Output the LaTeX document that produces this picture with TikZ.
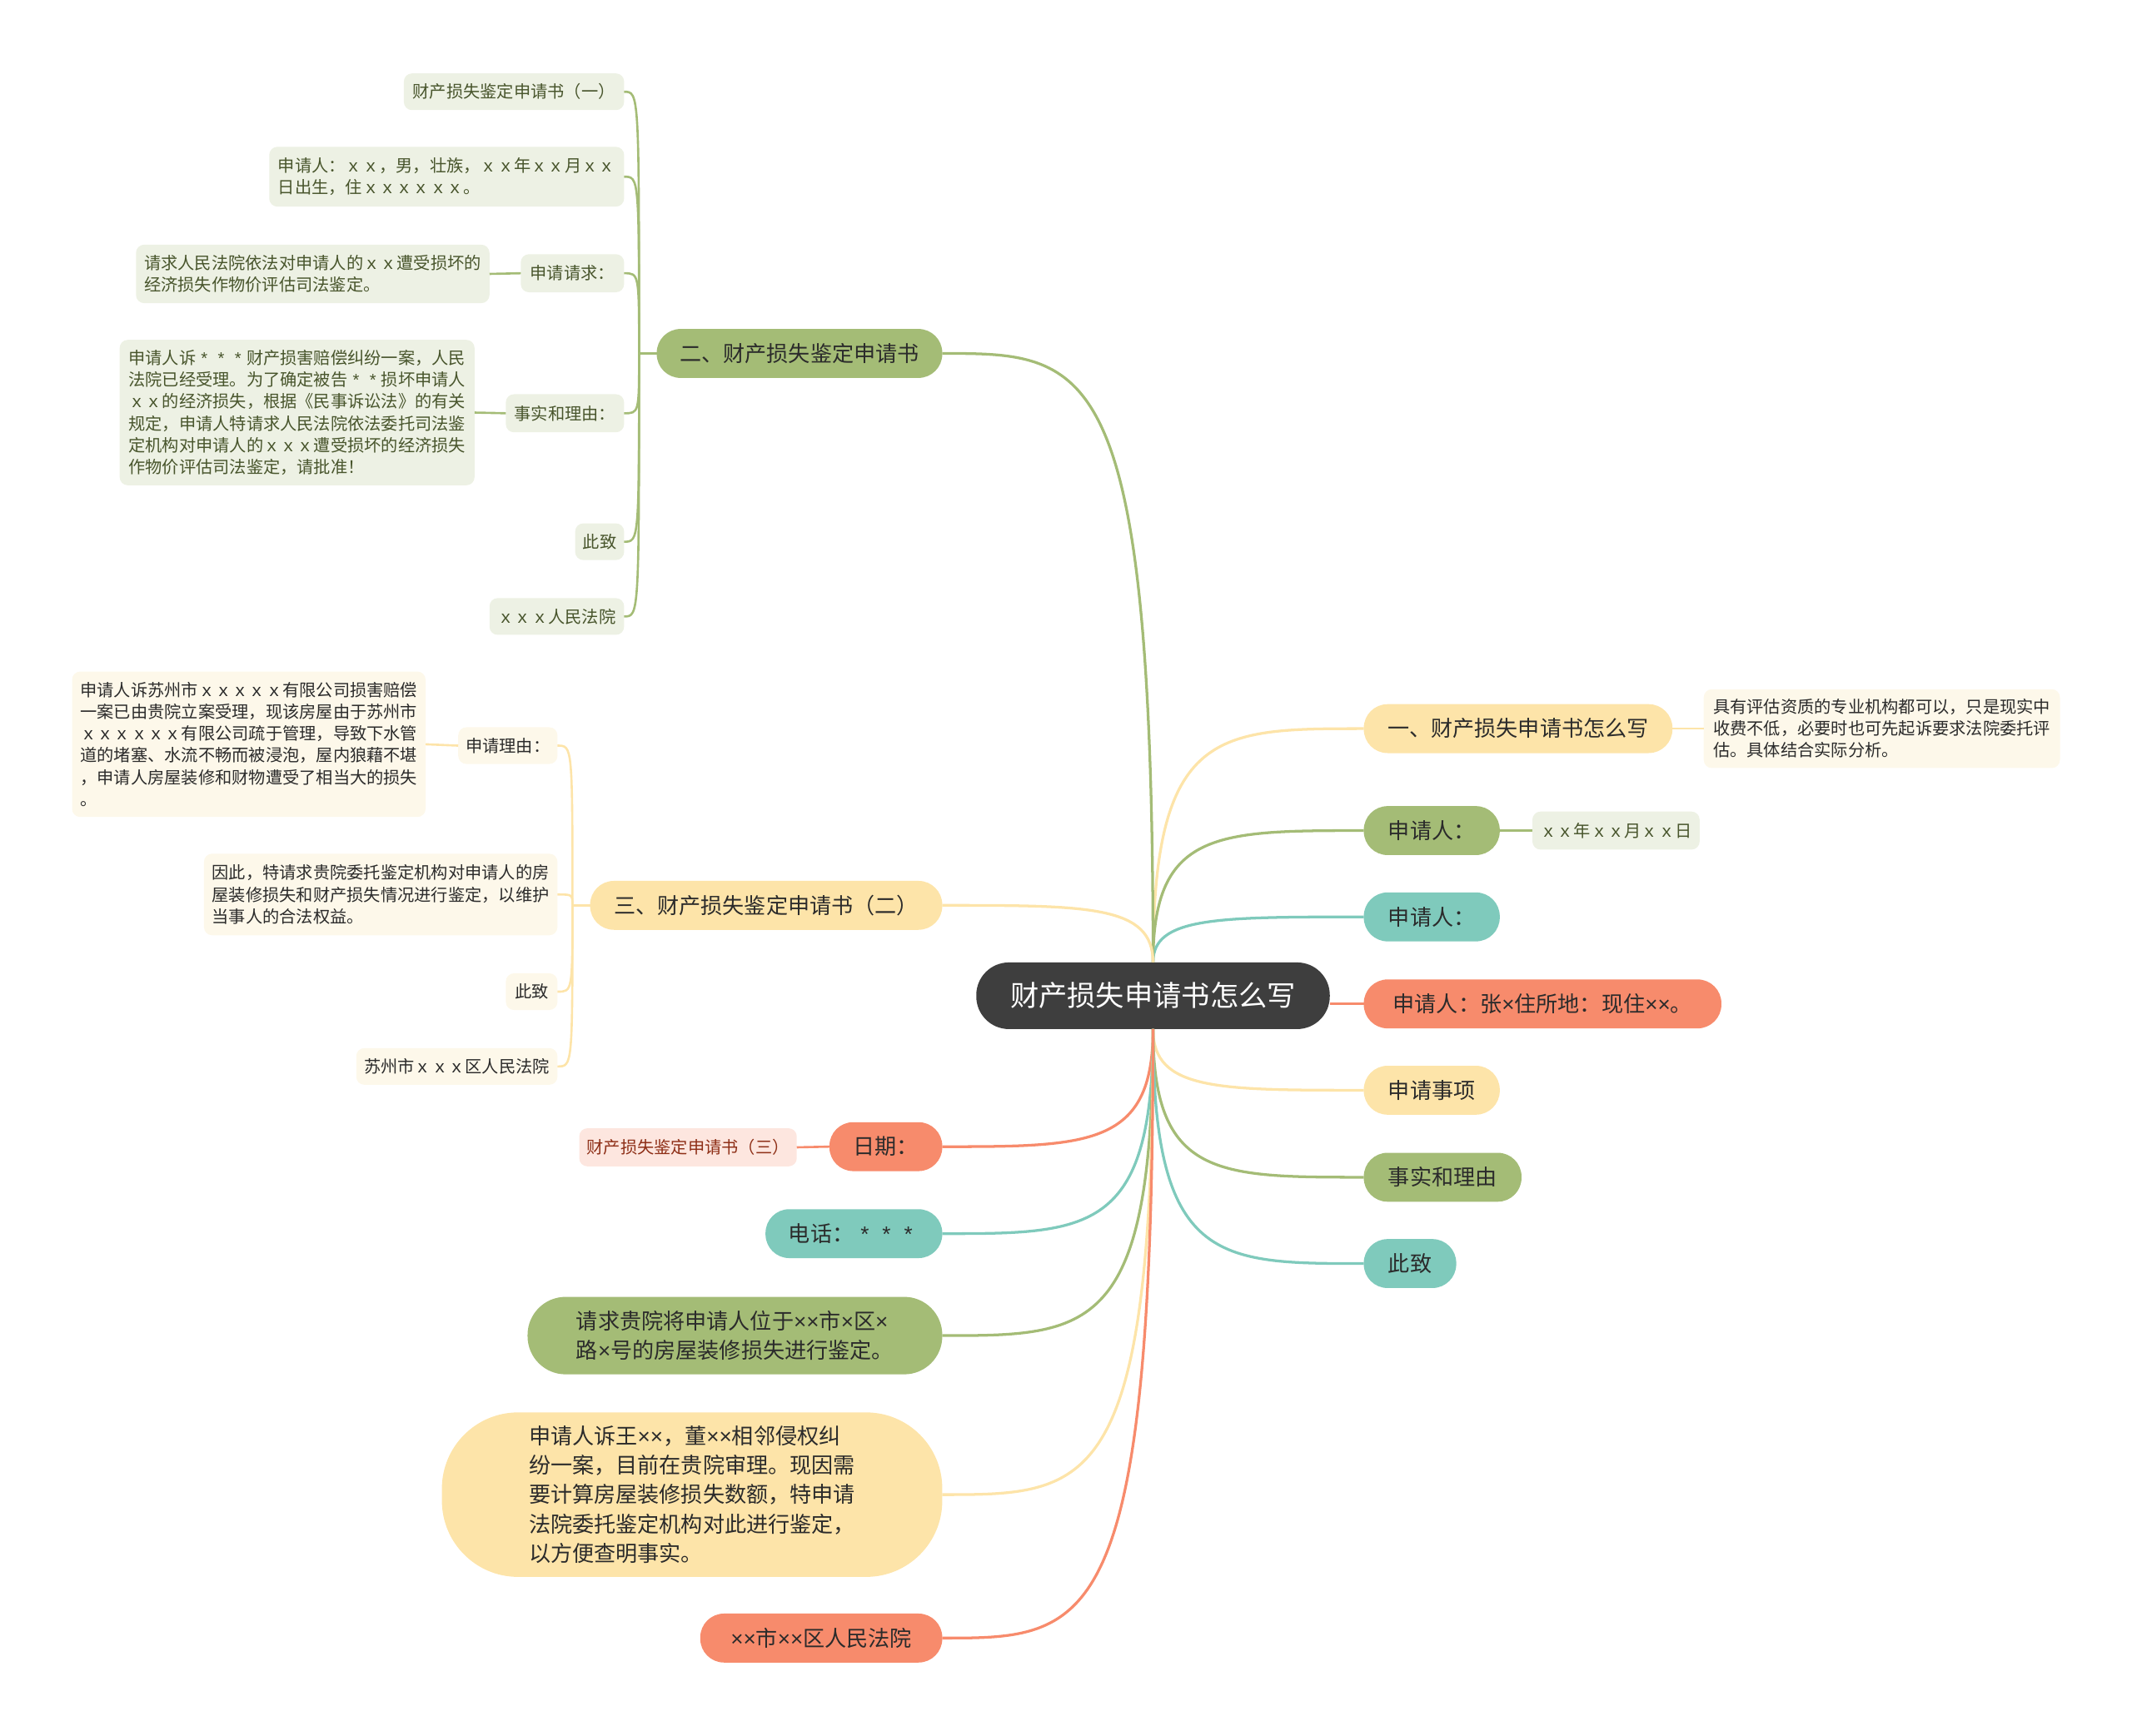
\documentclass[tikz,border=0pt]{standalone}
\usepackage{fontspec}
\setmainfont{Noto Sans CJK SC}
\newfontfamily\latinfont{Liberation Sans}
\newcommand{\X}{{\latinfont ×}}
\newcommand{\st}{\makebox[1em]{\latinfont *}}
\definecolor{cgreen}{HTML}{A4BC76}
\definecolor{cyellow}{HTML}{FDE4A9}
\definecolor{cteal}{HTML}{7FCABC}
\definecolor{csalmon}{HTML}{F78B6C}
\definecolor{cdark}{HTML}{3E3E3E}
\definecolor{lgreen}{HTML}{EDF1E4}
\definecolor{lyellow}{HTML}{FDF8EA}
\definecolor{lpink}{HTML}{FDE6DF}
\definecolor{tgreen}{HTML}{48552C}
\definecolor{tpink}{HTML}{8E2F17}
\definecolor{tmain}{HTML}{2B2B2B}
\begin{document}
\begin{tikzpicture}[x=1pt,y=-1pt,
  every node/.style={inner sep=0pt, outer sep=0pt},
  ctrbox/.style={rounded corners=24pt, fill=cdark, text=white, minimum height=49pt,
    font=\fontsize{21}{26}\selectfont},
  mainbox/.style={rounded corners=17.5pt, minimum height=36pt, text=tmain, align=left,
    font=\fontsize{16}{21.5}\selectfont},
  subbox/.style={rounded corners=6pt, minimum height=27pt, align=left,
    font=\fontsize{12.4}{16}\selectfont},
  gsub/.style={subbox, fill=lgreen, text=tgreen},
  ysub/.style={subbox, fill=lyellow, text=tmain},
  psub/.style={subbox, fill=lpink, text=tpink},
  conn/.style={line width=2pt},
  bconn/.style={line width=1.6pt},
]
\useasboundingbox (0,0) rectangle (1568,1277);

% centre
\node[ctrbox, minimum width=260pt] (ctr) at (848,732.5) {财产损失申请书怎么写};

% right side
\node[mainbox, fill=cyellow, minimum width=227pt] (r1) at (1116.5,536) {一、财产损失申请书怎么写};
\node[ysub, minimum width=262pt, minimum height=58pt] (r1n) at (1384,536) {具有评估资质的专业机构都可以，只是现实中\\收费不低，必要时也可先起诉要求法院委托评\\估。具体结合实际分析。};
\node[mainbox, fill=cgreen, minimum width=100pt] (r2) at (1053,611) {申请人：};
\node[gsub, minimum width=123pt, minimum height=28pt] (r2c) at (1188.5,611) {ｘｘ年ｘｘ月ｘｘ日};
\node[mainbox, fill=cteal, minimum width=100pt] (r3) at (1053,674.5) {申请人：};
\node[mainbox, fill=csalmon, minimum width=263pt] (r4) at (1134.5,738.5) {申请人：张\X 住所地：现住\X\X 。};
\node[mainbox, fill=cyellow, minimum width=100pt] (r5) at (1053,802) {申请事项};
\node[mainbox, fill=cgreen, minimum width=116pt] (r6) at (1061,866) {事实和理由};
\node[mainbox, fill=cteal, minimum width=68pt] (r7) at (1037,929.5) {此致};

% left side A
\node[mainbox, fill=cgreen, minimum width=210pt] (la) at (588,260) {二、财产损失鉴定申请书};
\node[gsub, minimum width=162pt] (a1) at (378,67.5) {财产损失鉴定申请书（一）};
\node[gsub, minimum width=261pt, minimum height=44pt] (a2) at (328.5,130) {申请人：ｘｘ，男，壮族，ｘｘ年ｘｘ月ｘｘ\\日出生，住ｘｘｘｘｘｘ。};
\node[gsub, minimum width=76pt, minimum height=28pt] (a3) at (421,201) {申请请求：};
\node[gsub, minimum width=260pt, minimum height=43pt] (a3c) at (230,201.5) {请求人民法院依法对申请人的ｘｘ遭受损坏的\\经济损失作物价评估司法鉴定。};
\node[gsub, minimum width=87pt, minimum height=28pt] (a4) at (415.5,304) {事实和理由：};
\node[gsub, minimum width=261pt, minimum height=107pt] (a4c) at (218.5,303.5) {申请人诉\st\st\st 财产损害赔偿纠纷一案，人民\\法院已经受理。为了确定被告\st\st 损坏申请人\\ｘｘ的经济损失，根据《民事诉讼法》的有关\\规定，申请人特请求人民法院依法委托司法鉴\\定机构对申请人的ｘｘｘ遭受损坏的经济损失\\作物价评估司法鉴定，请批准！};
\node[gsub, minimum width=36pt] (a5) at (441,398.5) {此致};
\node[gsub, minimum width=99pt] (a6) at (409.5,453.5) {ｘｘｘ人民法院};

% left side B
\node[mainbox, fill=cyellow, minimum width=259pt] (lb) at (563.5,666) {三、财产损失鉴定申请书（二）};
\node[ysub, minimum width=73pt] (b1) at (373.5,548.5) {申请理由：};
\node[ysub, minimum width=260pt, minimum height=107pt] (b1c) at (183,547.5) {申请人诉苏州市ｘｘｘｘｘ有限公司损害赔偿\\一案已由贵院立案受理，现该房屋由于苏州市\\ｘｘｘｘｘｘ有限公司疏于管理，导致下水管\\道的堵塞、水流不畅而被浸泡，屋内狼藉不堪\\，申请人房屋装修和财物遭受了相当大的损失\\。};
\node[ysub, minimum width=260pt, minimum height=60pt] (b2) at (280,658) {因此，特请求贵院委托鉴定机构对申请人的房\\屋装修损失和财产损失情况进行鉴定，以维护\\当事人的合法权益。};
\node[ysub, minimum width=38pt] (b3) at (391,729.5) {此致};
\node[ysub, minimum width=148pt] (b4) at (336,784.5) {苏州市ｘｘｘ区人民法院};

% left side lower
\node[mainbox, fill=csalmon, minimum width=83pt] (lc) at (651.5,843.5) {日期：};
\node[psub, minimum width=160pt, minimum height=28pt] (lcc) at (506,844) {财产损失鉴定申请书（三）};
\node[mainbox, fill=cteal, minimum width=130pt] (ld) at (628,907.5) {电话：\st\st\st};
\node[mainbox, fill=cgreen, minimum width=305pt, minimum height=57pt, rounded corners=28pt] (le) at (540.5,982.5) {请求贵院将申请人位于\X\X 市\X 区\X\\路\X 号的房屋装修损失进行鉴定。};
\node[mainbox, fill=cyellow, minimum width=368pt, minimum height=121pt, rounded corners=56pt] (lf) at (509,1099.5) {申请人诉王\X\X ，董\X\X 相邻侵权纠\\纷一案，目前在贵院审理。现因需\\要计算房屋装修损失数额，特申请\\法院委托鉴定机构对此进行鉴定，\\以方便查明事实。};
\node[mainbox, fill=csalmon, minimum width=178pt] (lg) at (604,1205) {\X\X 市\X\X 区人民法院};

% centre connectors, right
\draw[conn, cyellow] (ctr.north) .. controls (ctr.north |- r1.west) and ([xshift=-108pt]r1.west) .. (r1.west);
\draw[conn, cgreen] (ctr.north) .. controls (ctr.north |- r2.west) and ([xshift=-108pt]r2.west) .. (r2.west);
\draw[conn, cteal] (ctr.north) .. controls (ctr.north |- r3.west) and ([xshift=-108pt]r3.west) .. (r3.west);
\draw[conn, csalmon] (ctr.east |- r4.west) -- (r4.west);
\draw[conn, cyellow] (ctr.south) .. controls (ctr.south |- r5.west) and ([xshift=-108pt]r5.west) .. (r5.west);
\draw[conn, cgreen] (ctr.south) .. controls (ctr.south |- r6.west) and ([xshift=-108pt]r6.west) .. (r6.west);
\draw[conn, cteal] (ctr.south) .. controls (ctr.south |- r7.west) and ([xshift=-108pt]r7.west) .. (r7.west);

% centre connectors, left
\draw[conn, cgreen] (ctr.north) .. controls (ctr.north |- la.east) and ([xshift=108pt]la.east) .. (la.east);
\draw[conn, cyellow] (ctr.north) .. controls (ctr.north |- lb.east) and ([xshift=108pt]lb.east) .. (lb.east);
\draw[conn, csalmon] (ctr.south) .. controls (ctr.south |- lc.east) and ([xshift=108pt]lc.east) .. (lc.east);
\draw[conn, cteal] (ctr.south) .. controls (ctr.south |- ld.east) and ([xshift=108pt]ld.east) .. (ld.east);
\draw[conn, cgreen] (ctr.south) .. controls (ctr.south |- le.east) and ([xshift=108pt]le.east) .. (le.east);
\draw[conn, cyellow] (ctr.south) .. controls (ctr.south |- lf.east) and ([xshift=108pt]lf.east) .. (lf.east);
\draw[conn, csalmon] (ctr.south) .. controls (ctr.south |- lg.east) and ([xshift=108pt]lg.east) .. (lg.east);

% straight child links
\draw[bconn, cyellow] (r1.east) -- (r1n.west);
\draw[bconn, cgreen] (r2.east) -- (r2c.west);
\draw[bconn, csalmon] (lc.west) -- (lcc.east);
\draw[bconn, cgreen] (a3.west) -- (a3c.east);
\draw[bconn, cgreen] (a4.west) -- (a4c.east);
\draw[bconn, cyellow] (b1.west) -- (b1c.east);

% bracket A
\coordinate (ja) at ([xshift=-13pt]la.west);
\draw[bconn, cgreen] (la.west) -- (ja);
\foreach \c in {a1,a2,a3,a4,a5,a6}{
  \draw[bconn, cgreen] (ja) .. controls (ja |- \c.east) .. (\c.east);
}
% bracket B
\coordinate (jb) at ([xshift=-13pt]lb.west);
\draw[bconn, cyellow] (lb.west) -- (jb);
\foreach \c in {b1,b2,b3,b4}{
  \draw[bconn, cyellow] (jb) .. controls (jb |- \c.east) .. (\c.east);
}
\end{tikzpicture}
\end{document}
